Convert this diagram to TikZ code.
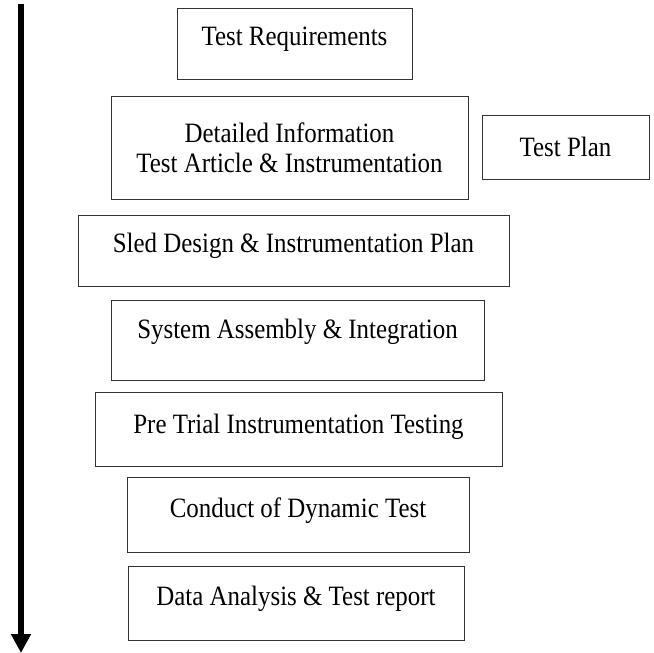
\documentclass[tikz,border=0pt]{standalone}
\usepackage{fontspec}
\setmainfont{Liberation Serif}[FakeStretch=0.89]
\usetikzlibrary{arrows.meta}

\begin{document}
\begin{tikzpicture}[x=1pt, y=-1pt,
		stepbox/.style={draw=black!80, line width=1pt, font=\fontsize{28}{30}\selectfont, inner sep=0pt, text height=18pt, text depth=14pt},
		twobox/.style={draw=black!80, line width=1pt, font=\fontsize{28}{30}\selectfont, inner sep=0pt, align=center},
		flow/.style={line width=6pt, -{Triangle[width=19pt, length=19pt]}}]
	\useasboundingbox (0,0) rectangle (654,653);
	
	\coordinate (top) at (21,4);
	\coordinate (bottom) at (21,653);
	\draw[flow] (top) -- (bottom);
	
	\node[stepbox, minimum width=235pt, minimum height=71pt] (req) at (294.5,43.5) {Test Requirements};
	\node[twobox, minimum width=357pt, minimum height=103pt] (info) at (289.5,147.5) {Detailed Information\\Test Article \& Instrumentation};
	\node[twobox, minimum width=167pt, minimum height=64pt] (plan) at (565.5,147) {Test Plan};
	\node[stepbox, minimum width=431pt, minimum height=71pt] (sled) at (293.5,250.5) {Sled Design \& Instrumentation Plan};
	\node[stepbox, text depth=22pt, minimum width=373pt, minimum height=80pt] (assembly) at (297.5,340) {System Assembly \& Integration};
	\node[stepbox, text depth=10pt, minimum width=407pt, minimum height=74pt] (pretrial) at (298.5,429) {Pre Trial Instrumentation Testing};
	\node[stepbox, text depth=13pt, minimum width=342pt, minimum height=75pt] (dynamic) at (298,514.5) {Conduct of Dynamic Test};
	\node[stepbox, minimum width=336pt, minimum height=74pt] (report) at (296,603) {Data Analysis \& Test report};
\end{tikzpicture}
\end{document}
